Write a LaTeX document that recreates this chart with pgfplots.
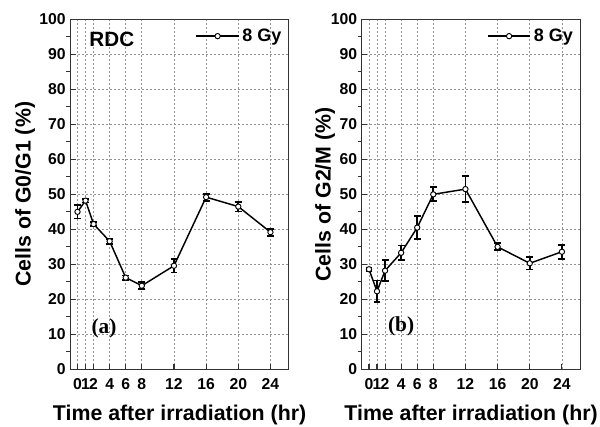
\documentclass[border=0pt]{standalone}
\usepackage{fontspec}
\setmainfont{Liberation Sans}
\newfontfamily\timesf{Liberation Serif}
\usepackage{pgfplots}
\usepackage{pgfplotstable}
\pgfplotsset{compat=1.18}

\pgfplotstableread{
t v e
0 45.0 1.9
1 48.2 0.5
2 41.5 0.6
4 36.6 0.7
6 26.2 0.6
8 23.9 1.0
12 29.6 1.9
16 49.2 1.0
20 46.5 1.4
24 39.2 1.0
}\dataA

\pgfplotstableread{
t v e
0 28.6 0.5
1 22.3 3.1
2 28.2 3.0
4 33.3 2.1
6 40.5 3.3
8 50.0 2.0
12 51.5 3.7
16 35.0 1.0
20 30.3 1.8
24 33.6 2.0
}\dataB

\pgfplotsset{
 myaxis/.style={
  scale only axis, width=164pt, height=262.5pt,
  xmin=-0.9, xmax=26.3, ymin=0, ymax=100,
  xtick={0,1,2,4,6,8,12,16,20,24},
  ytick={0,10,...,100}, minor y tick num=1,
  xtick pos=bottom, ytick pos=left,
  tick align=inside,
  major tick length=4pt,
  minor tick length=3pt,
  minor tick style={xshift=-3pt},
  grid=major,
  major grid style={dash pattern=on 1.5pt off 1.5pt, gray!85, line width=0.5pt},
  axis line style={line width=0.8pt, black!80},
  tick style={black!80, line width=0.8pt},
  /pgf/number format/assume math mode=true,
  tick label style={font=\bfseries\fontsize{11.8}{14}\selectfont},
  xticklabel style={yshift=-3.5pt},
  label style={font=\bfseries\fontsize{16}{19}\selectfont},
  xlabel={Time after irradiation (hr)},
  xlabel style={at={(axis description cs:0.5,-0.13)}, anchor=center},
  legend style={draw=none, fill=none, at={(axis description cs:0.985,0.985)}, anchor=north east, font=\bfseries\fontsize{13.5}{16}\selectfont, inner sep=1pt},
  legend image code/.code={\draw[#1, mark=none] (0pt,0pt) -- (32pt,0pt); \draw[#1] plot coordinates {(16pt,0pt)};},
 },
 mydata/.style={black, line width=1.1pt, mark=*, mark size=2pt,
  mark options={fill=white, line width=0.7pt, solid},
  error bars/.cd, y dir=both, y explicit,
  error bar style={line width=1.2pt, black},
  error mark options={rotate=90, mark size=2.6pt, line width=1.3pt, black}},
}

\begin{document}
\begin{tikzpicture}
\useasboundingbox (0,0) rectangle (450pt,-319.5pt);
\begin{axis}[myaxis, at={(52.7pt,-277pt)}, anchor=south west,
  ylabel={Cells of G0/G1 (\%)},
  ylabel style={at={(axis description cs:-0.207,0.5)}, anchor=center}]
\addplot[mydata] table[x=t, y=v, y error=e] {\dataA};
\addlegendentry{8 Gy}
\node[anchor=west, font=\bfseries\fontsize{15.5}{18}\selectfont] at (axis cs:0.9,94.3) {RDC};
\node[font=\timesf\bfseries\fontsize{16}{19}\selectfont] at (axis cs:3.3,11.7) {(a)};
\end{axis}
\begin{axis}[myaxis, at={(271.3pt,-277pt)}, anchor=south west,
  ylabel={Cells of G2/M (\%)},
  ylabel style={at={(axis description cs:-0.168,0.5)}, anchor=center}]
\addplot[mydata] table[x=t, y=v, y error=e] {\dataB};
\addlegendentry{8 Gy}
\node[font=\timesf\bfseries\fontsize{16}{19}\selectfont] at (axis cs:4.0,12.2) {(b)};
\end{axis}
\end{tikzpicture}
\end{document}
